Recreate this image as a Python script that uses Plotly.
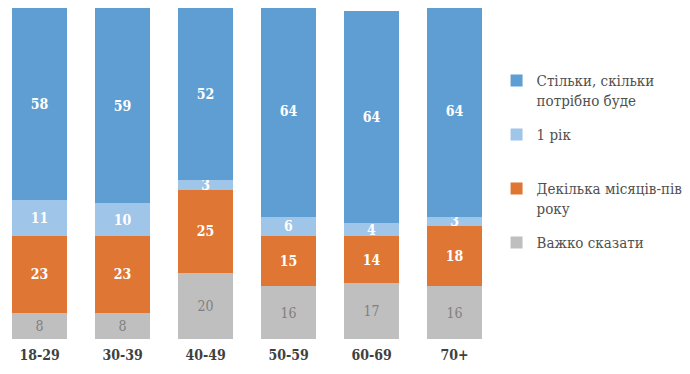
import plotly.graph_objects as go

categories = ["18-29", "30-39", "40-49", "50-59", "60-69", "70+"]
hard_to_say = [8, 8, 20, 16, 17, 16]
few_months = [23, 23, 25, 15, 14, 18]
one_year = [11, 10, 3, 6, 4, 3]
as_long = [58, 59, 52, 64, 64, 64]

SERIF = "DejaVu Serif Condensed, DejaVu Serif"

series = [
    ("Важко сказати<br>\u00a0", hard_to_say, "#BFBFBF", "#808080", "normal", 4),
    ("Декілька місяців-пів<br>року", few_months, "#E07633", "white", "bold", 3),
    ("1 рік<br>\u00a0", one_year, "#9FC5E8", "white", "bold", 2),
    ("Стільки, скільки<br>потрібно буде", as_long, "#5F9ED3", "white", "bold", 1),
]

fig = go.Figure()
for name, vals, color, tcolor, w, rank in series:
    fig.add_trace(go.Bar(
        x=categories, y=vals, name=name,
        marker=dict(color=color, line=dict(width=0)),
        text=[str(v) for v in vals], textposition="inside", textangle=0,
        insidetextanchor="middle", constraintext="none",
        textfont=dict(family=SERIF, size=14, color=tcolor, weight=w),
        legendgroup=name, legendrank=rank,
    ))

fig.update_layout(
    barmode="stack", bargap=0.337,
    width=690, height=374,
    margin=dict(l=0, r=194, t=0, b=43, autoexpand=False),
    plot_bgcolor="white", paper_bgcolor="white",
    font=dict(family=SERIF, color="#404040"),
    xaxis=dict(tickfont=dict(family=SERIF, size=14, weight="bold", color="#404040"), showline=False,
               ticks="", range=[-0.38, 5.596], automargin=False, ticklabelstandoff=6),
    yaxis=dict(range=[0, 100], visible=False, showgrid=False),
    legend=dict(traceorder="grouped", tracegroupgap=12, valign="top",
                x=0.985, y=0.83, yanchor="top", xanchor="left",
                font=dict(size=15, color="#505050", family=SERIF),
                itemwidth=30),
    showlegend=True,
)
fig.write_html("out.html")
